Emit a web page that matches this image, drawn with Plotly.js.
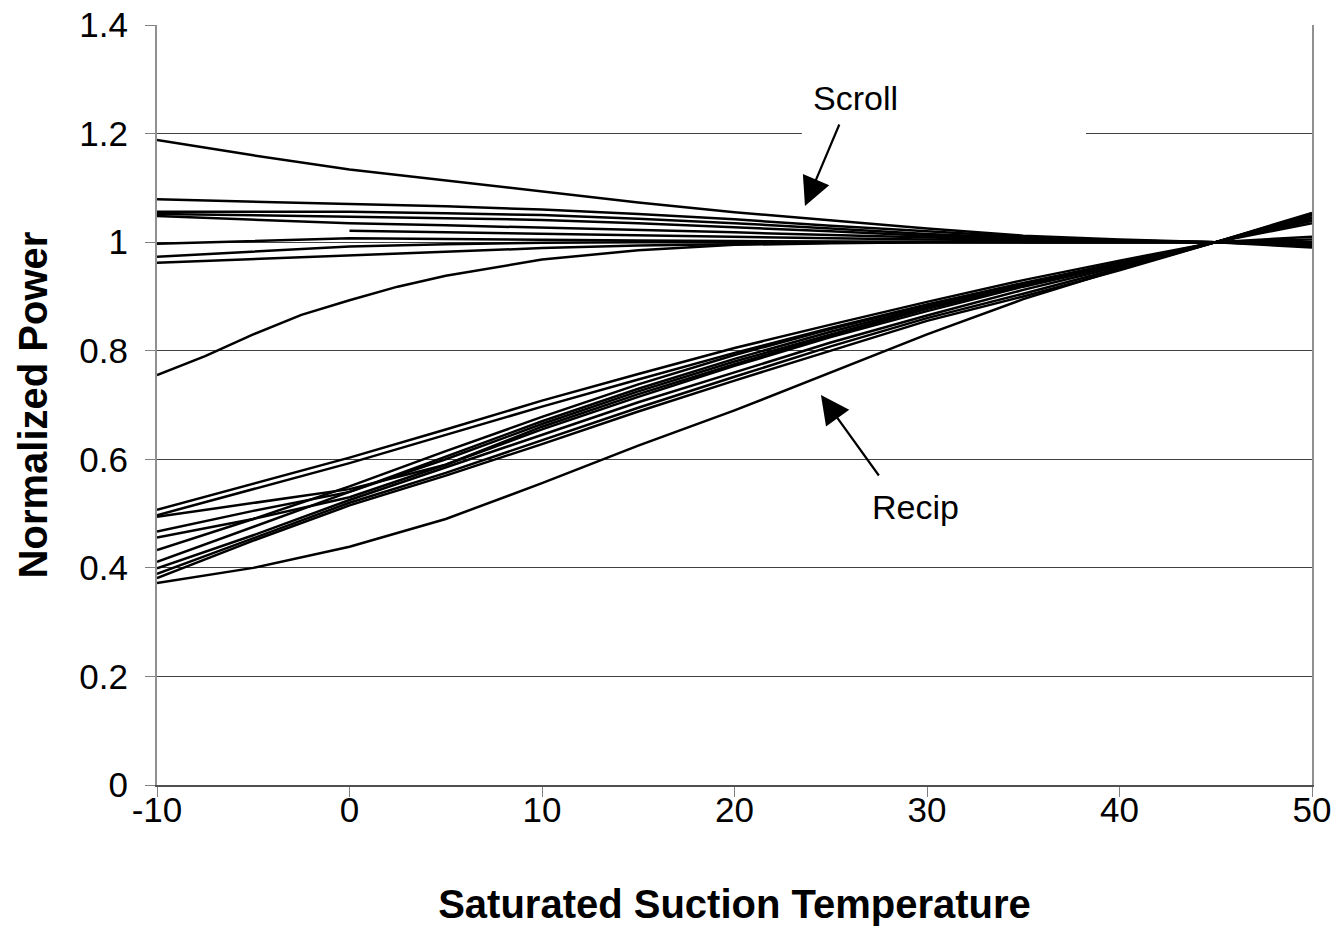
<!DOCTYPE html>
<html>
<head>
<meta charset="utf-8">
<script src="https://cdn.plot.ly/plotly-3.0.1.min.js"></script>
<style>html,body{margin:0;padding:0;background:#fff;}#chart{width:1337px;height:928px;}</style>
</head>
<body>
<div id="chart"></div>
<script>
// Saturated suction temperature (x) grid
var temps = [-10, -5, 0, 5, 10, 15, 20, 25, 30, 35, 40, 45, 50];
var tempsFine = [-10, -7.5, -5, -2.5, 0, 2.5, 5, 10, 15, 20, 25, 30, 35, 40, 45, 50];

// Scroll compressors (normalized power)
var scroll1 = [1.188, 1.160, 1.134, 1.114, 1.093, 1.073, 1.055, 1.040, 1.025, 1.012, 1.005, 1.000, 0.995];
var scroll2 = [1.079, 1.075, 1.070, 1.066, 1.060, 1.052, 1.042, 1.030, 1.020, 1.010, 1.003, 1.000, 0.993];
var scroll3 = [1.056, 1.056, 1.056, 1.053, 1.050, 1.043, 1.035, 1.025, 1.015, 1.008, 1.003, 1.000, 0.990];
var scroll4 = [1.052, 1.050, 1.047, 1.044, 1.041, 1.035, 1.028, 1.020, 1.012, 1.006, 1.002, 1.000, 0.995];
var scroll5 = [1.048, 1.041, 1.035, 1.031, 1.027, 1.022, 1.018, 1.013, 1.008, 1.004, 1.001, 1.000, 0.998];
var scroll6 = [null, null, 1.021, 1.018, 1.016, 1.013, 1.010, 1.007, 1.005, 1.003, 1.001, 1.000, 1.000];
var scroll7 = [0.997, 1.002, 1.007, 1.006, 1.004, 1.003, 1.002, 1.001, 1.000, 1.000, 1.000, 1.000, 1.010];
var scroll8 = [0.973, 0.983, 0.992, 0.996, 0.999, 1.000, 1.000, 1.000, 1.000, 1.000, 1.000, 1.000, 1.000];
var scroll9 = [0.962, 0.969, 0.976, 0.982, 0.989, 0.994, 0.997, 0.999, 1.000, 1.000, 1.000, 1.000, 1.005];
var scroll10 = [0.755, 0.790, 0.830, 0.866, 0.893, 0.918, 0.938, 0.968, 0.985, 0.995, 0.998, 1.000, 1.000, 1.000, 1.000, 0.995];

// Reciprocating compressors (normalized power)
var recip1 = [0.507, 0.555, 0.603, 0.655, 0.708, 0.757, 0.805, 0.848, 0.890, 0.930, 0.966, 1.000, 1.035];
var recip2 = [0.497, 0.545, 0.593, 0.645, 0.697, 0.747, 0.796, 0.842, 0.885, 0.925, 0.963, 1.000, 1.040];
var recip3 = [0.494, 0.520, 0.545, 0.590, 0.660, 0.720, 0.775, 0.828, 0.877, 0.920, 0.960, 1.000, 1.045];
var recip4 = [0.467, 0.505, 0.540, 0.600, 0.665, 0.725, 0.780, 0.830, 0.878, 0.920, 0.960, 1.000, 1.045];
var recip5 = [0.456, 0.490, 0.530, 0.590, 0.655, 0.715, 0.772, 0.825, 0.873, 0.918, 0.958, 1.000, 1.050];
var recip6 = [0.433, 0.490, 0.550, 0.615, 0.678, 0.738, 0.792, 0.840, 0.883, 0.923, 0.962, 1.000, 1.040];
var recip7 = [0.411, 0.475, 0.540, 0.605, 0.670, 0.730, 0.785, 0.835, 0.880, 0.920, 0.960, 1.000, 1.045];
var recip8 = [0.399, 0.460, 0.525, 0.585, 0.645, 0.705, 0.760, 0.815, 0.865, 0.912, 0.955, 1.000, 1.050];
var recip9 = [0.389, 0.455, 0.520, 0.575, 0.635, 0.695, 0.752, 0.808, 0.860, 0.905, 0.952, 1.000, 1.052];
var recip10 = [0.381, 0.450, 0.515, 0.570, 0.628, 0.688, 0.745, 0.800, 0.855, 0.900, 0.948, 1.000, 1.054];
var recip11 = [0.372, 0.400, 0.439, 0.490, 0.556, 0.625, 0.690, 0.760, 0.830, 0.895, 0.950, 1.000, 1.040];

var xTicks = [-10, 0, 10, 20, 30, 40, 50];
var yTicks = [0, 0.2, 0.4, 0.6, 0.8, 1, 1.2, 1.4];
var yTickText = ['0', '0.2', '0.4', '0.6', '0.8', '1', '1.2', '1.4'];

var scrollSeries = [scroll1, scroll2, scroll3, scroll4, scroll5, scroll6, scroll7, scroll8, scroll9];
var recipSeries = [recip1, recip2, recip3, recip4, recip5, recip6, recip7, recip8, recip9, recip10, recip11];

var lineStyle = {color: '#000000', width: 2.5};
var traces = [];
scrollSeries.forEach(function (s) {
  traces.push({x: temps, y: s, type: 'scatter', mode: 'lines', line: lineStyle, hoverinfo: 'skip', connectgaps: false});
});
traces.push({x: tempsFine, y: scroll10, type: 'scatter', mode: 'lines', line: lineStyle, hoverinfo: 'skip'});
recipSeries.forEach(function (s) {
  traces.push({x: temps, y: s, type: 'scatter', mode: 'lines', line: lineStyle, hoverinfo: 'skip'});
});

var font = 'Liberation Sans, Arial, sans-serif';

var layout = {
  width: 1337,
  height: 928,
  paper_bgcolor: '#ffffff',
  plot_bgcolor: '#ffffff',
  showlegend: false,
  margin: {l: 157, r: 25, t: 25, b: 143, pad: 0},
  font: {family: font, color: '#000000'},
  xaxis: {
    range: [-10, 50],
    tickvals: xTicks,
    ticktext: xTicks.map(String),
    ticks: 'outside',
    ticklen: 10,
    tickwidth: 1,
    tickcolor: '#808080',
    tickfont: {family: font, size: 35, color: '#000000'},
    ticklabelstandoff: -17,
    showgrid: false,
    zeroline: false,
    showline: true,
    linecolor: '#505050',
    linewidth: 2,
    title: {text: 'Saturated Suction Temperature', font: {family: font, size: 40, color: '#000000', weight: 'bold'}, standoff: 62}
  },
  yaxis: {
    range: [0, 1.4],
    tickvals: yTicks,
    ticktext: yTickText,
    ticks: 'outside',
    ticklen: 10,
    tickwidth: 1,
    tickcolor: '#808080',
    tickfont: {family: font, size: 35, color: '#000000'},
    ticklabelstandoff: 10,
    showgrid: true,
    gridcolor: '#404040',
    gridwidth: 1,
    zeroline: false,
    showline: true,
    mirror: true,
    linecolor: '#909090',
    linewidth: 2,
    title: {text: 'Normalized Power', font: {family: font, size: 40, color: '#000000', weight: 'bold'}, standoff: 19}
  },
  shapes: [
    {type: 'rect', xref: 'x', yref: 'y', x0: 23.5, x1: 38.26, y0: 1.17, y1: 1.33, fillcolor: '#ffffff', line: {width: 0}, layer: 'between'}
  ],
  annotations: [
    {x: 26.26, y: 1.265, xref: 'x', yref: 'y', text: 'Scroll', showarrow: false, font: {family: font, size: 34, color: '#000000'}},
    {x: 29.38, y: 0.513, xref: 'x', yref: 'y', text: 'Recip', showarrow: false, font: {family: font, size: 34, color: '#000000'}},
    {x: 23.66, y: 1.0666, xref: 'x', yref: 'y', text: '', showarrow: true, arrowhead: 2, arrowsize: 2.6, arrowwidth: 2.2, arrowcolor: '#000000', ax: 35, ay: -83, standoff: 0},
    {x: 24.49, y: 0.7184, xref: 'x', yref: 'y', text: '', showarrow: true, arrowhead: 2, arrowsize: 2.6, arrowwidth: 2.2, arrowcolor: '#000000', ax: 59, ay: 82, standoff: 0}
  ]
};

Plotly.newPlot('chart', traces, layout, {displayModeBar: false, staticPlot: true});
</script>
</body>
</html>
